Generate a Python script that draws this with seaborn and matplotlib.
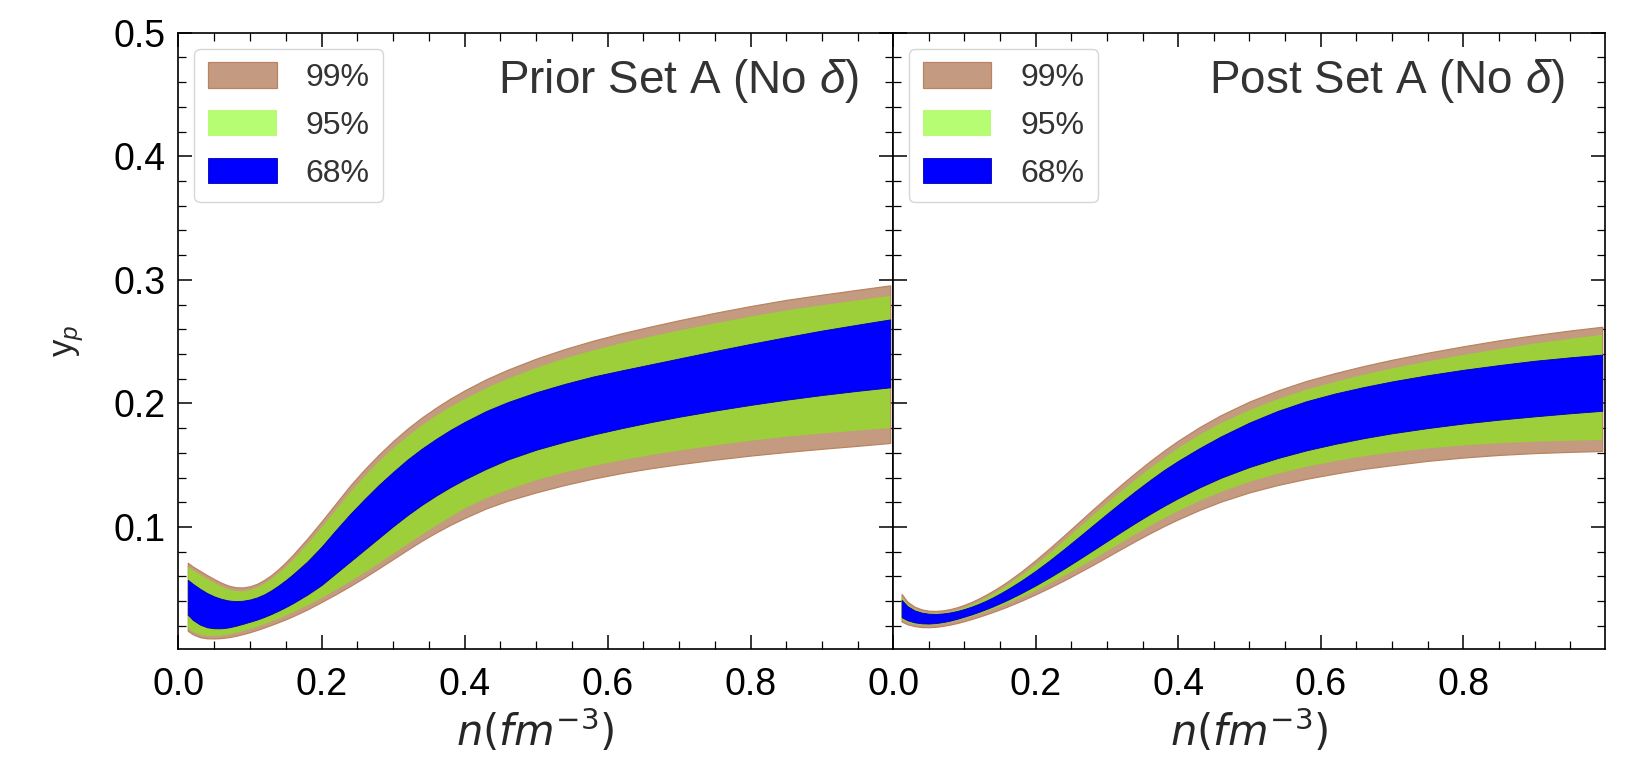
import numpy as np
import matplotlib
matplotlib.use("Agg")
import matplotlib.pyplot as plt
from matplotlib.ticker import FormatStrFormatter
import seaborn as sns

# density grids (fm^-3)
n_prior = [0.013, 0.02, 0.03, 0.04, 0.05, 0.06, 0.07, 0.08, 0.09, 0.10, 0.11, 0.12, 0.13, 0.14,
           0.15, 0.16, 0.18, 0.20, 0.22, 0.24, 0.26, 0.28, 0.30, 0.32, 0.34, 0.36, 0.38, 0.40,
           0.43, 0.46, 0.50, 0.54, 0.58, 0.62, 0.66, 0.70, 0.75, 0.80, 0.85, 0.90, 0.95, 0.995]
n_post = [0.012, 0.02, 0.03, 0.04, 0.05, 0.06, 0.07, 0.08, 0.09, 0.10, 0.11, 0.12, 0.13, 0.14,
          0.15, 0.16, 0.18, 0.20, 0.22, 0.24, 0.26, 0.28, 0.30, 0.32, 0.34, 0.36, 0.38, 0.40,
          0.43, 0.46, 0.50, 0.54, 0.58, 0.62, 0.66, 0.70, 0.75, 0.80, 0.85, 0.90, 0.95, 0.995]

# proton fraction credible bands, prior (Set A, no delta meson)
prior_u99 = [0.0710, 0.0680, 0.0645, 0.0610, 0.0578, 0.0548, 0.0525, 0.0512, 0.0510, 0.0520, 0.0540,
             0.0572, 0.0612, 0.0660, 0.0715, 0.0775, 0.0905, 0.1045, 0.1190, 0.1335, 0.1465, 0.1585,
             0.1695, 0.1795, 0.1885, 0.1965, 0.2039, 0.2105, 0.2195, 0.2272, 0.2362, 0.2440, 0.2508,
             0.2568, 0.2622, 0.2673, 0.2733, 0.2788, 0.2838, 0.2880, 0.2920, 0.2955]
prior_u95 = [0.0680, 0.0650, 0.0615, 0.0580, 0.0548, 0.0518, 0.0495, 0.0482, 0.0480, 0.0490, 0.0509,
             0.0540, 0.0579, 0.0626, 0.0675, 0.0733, 0.0860, 0.0995, 0.1138, 0.1280, 0.1408, 0.1527,
             0.1635, 0.1733, 0.1821, 0.1900, 0.1971, 0.2035, 0.2123, 0.2199, 0.2287, 0.2364, 0.2430,
             0.2488, 0.2541, 0.2590, 0.2648, 0.2703, 0.2753, 0.2795, 0.2835, 0.2870]
prior_u68 = [0.0572, 0.0540, 0.0500, 0.0465, 0.0438, 0.0418, 0.0405, 0.0400, 0.0403, 0.0413, 0.0430,
             0.0455, 0.0488, 0.0527, 0.0570, 0.0617, 0.0720, 0.0840, 0.0975, 0.1105, 0.1225, 0.1340,
             0.1445, 0.1545, 0.1633, 0.1712, 0.1785, 0.1850, 0.1938, 0.2010, 0.2090, 0.2158, 0.2218,
             0.2268, 0.2316, 0.2364, 0.2424, 0.2482, 0.2537, 0.2590, 0.2638, 0.2680]
prior_l68 = [0.0290, 0.0248, 0.0210, 0.0188, 0.0180, 0.0180, 0.0187, 0.0200, 0.0216, 0.0233, 0.0251,
             0.0272, 0.0296, 0.0323, 0.0352, 0.0383, 0.0452, 0.0530, 0.0625, 0.0720, 0.0815, 0.0910,
             0.1005, 0.1095, 0.1178, 0.1253, 0.1322, 0.1385, 0.1470, 0.1545, 0.1625, 0.1690, 0.1748,
             0.1800, 0.1848, 0.1892, 0.1942, 0.1988, 0.2030, 0.2068, 0.2102, 0.2130]
prior_l95 = [0.0180, 0.0152, 0.0128, 0.0119, 0.0118, 0.0122, 0.0130, 0.0142, 0.0157, 0.0174, 0.0193,
             0.0214, 0.0236, 0.0259, 0.0283, 0.0309, 0.0364, 0.0425, 0.0490, 0.0558, 0.0630, 0.0705,
             0.0782, 0.0860, 0.0937, 0.1010, 0.1080, 0.1150, 0.1232, 0.1300, 0.1378, 0.1442, 0.1495,
             0.1540, 0.1582, 0.1618, 0.1660, 0.1698, 0.1730, 0.1757, 0.1780, 0.1800]
prior_l99 = [0.0160, 0.0132, 0.0108, 0.0099, 0.0098, 0.0101, 0.0108, 0.0119, 0.0133, 0.0149, 0.0167,
             0.0187, 0.0208, 0.0230, 0.0253, 0.0278, 0.0332, 0.0393, 0.0456, 0.0522, 0.0592, 0.0665,
             0.0740, 0.0815, 0.0888, 0.0955, 0.1017, 0.1073, 0.1150, 0.1212, 0.1280, 0.1340, 0.1392,
             0.1437, 0.1475, 0.1508, 0.1545, 0.1578, 0.1607, 0.1633, 0.1657, 0.1680]

# proton fraction credible bands, posterior (Set A, no delta meson)
post_u99 = [0.0457, 0.0395, 0.0355, 0.0333, 0.0322, 0.0320, 0.0325, 0.0335, 0.0350, 0.0370, 0.0393,
            0.0420, 0.0450, 0.0483, 0.0518, 0.0556, 0.0640, 0.0732, 0.0830, 0.0932, 0.1036, 0.1140,
            0.1242, 0.1342, 0.1438, 0.1530, 0.1617, 0.1698, 0.1808, 0.1905, 0.2015, 0.2105, 0.2182,
            0.2245, 0.2302, 0.2353, 0.2410, 0.2462, 0.2510, 0.2552, 0.2590, 0.2620]
post_u95 = [0.0437, 0.0375, 0.0335, 0.0313, 0.0302, 0.0300, 0.0304, 0.0313, 0.0328, 0.0347, 0.0369,
            0.0395, 0.0424, 0.0456, 0.0490, 0.0527, 0.0608, 0.0692, 0.0788, 0.0887, 0.0989, 0.1091,
            0.1190, 0.1288, 0.1382, 0.1472, 0.1557, 0.1638, 0.1745, 0.1840, 0.1945, 0.2035, 0.2112,
            0.2175, 0.2232, 0.2283, 0.2340, 0.2392, 0.2440, 0.2484, 0.2523, 0.2555]
post_u68 = [0.0410, 0.0360, 0.0325, 0.0307, 0.0298, 0.0296, 0.0300, 0.0308, 0.0320, 0.0336, 0.0355,
            0.0377, 0.0402, 0.0430, 0.0461, 0.0494, 0.0566, 0.0645, 0.0731, 0.0822, 0.0916, 0.1011,
            0.1106, 0.1199, 0.1290, 0.1377, 0.1460, 0.1535, 0.1638, 0.1733, 0.1845, 0.1940, 0.2018,
            0.2080, 0.2132, 0.2178, 0.2228, 0.2272, 0.2310, 0.2345, 0.2373, 0.2395]
post_l68 = [0.0270, 0.0245, 0.0228, 0.0220, 0.0218, 0.0222, 0.0230, 0.0242, 0.0257, 0.0274, 0.0292,
            0.0312, 0.0334, 0.0357, 0.0382, 0.0408, 0.0465, 0.0527, 0.0593, 0.0663, 0.0736, 0.0810,
            0.0885, 0.0960, 0.1033, 0.1103, 0.1170, 0.1233, 0.1320, 0.1398, 0.1485, 0.1558, 0.1620,
            0.1672, 0.1718, 0.1758, 0.1800, 0.1837, 0.1868, 0.1895, 0.1920, 0.1940]
post_l95 = [0.0250, 0.0228, 0.0213, 0.0206, 0.0205, 0.0209, 0.0217, 0.0228, 0.0242, 0.0258, 0.0275,
            0.0294, 0.0314, 0.0335, 0.0357, 0.0380, 0.0430, 0.0484, 0.0542, 0.0604, 0.0668, 0.0735,
            0.0803, 0.0872, 0.0940, 0.1006, 0.1069, 0.1128, 0.1210, 0.1283, 0.1365, 0.1432, 0.1487,
            0.1533, 0.1572, 0.1603, 0.1635, 0.1660, 0.1678, 0.1690, 0.1698, 0.1703]
post_l99 = [0.0235, 0.0213, 0.0198, 0.0190, 0.0189, 0.0192, 0.0200, 0.0210, 0.0223, 0.0238, 0.0255,
            0.0273, 0.0292, 0.0312, 0.0333, 0.0355, 0.0403, 0.0455, 0.0510, 0.0568, 0.0630, 0.0692,
            0.0757, 0.0822, 0.0886, 0.0948, 0.1007, 0.1062, 0.1138, 0.1205, 0.1280, 0.1340, 0.1390,
            0.1432, 0.1470, 0.1500, 0.1535, 0.1562, 0.1583, 0.1598, 0.1608, 0.1615]

band_labels = ["99%", "95%", "68%"]
panel_titles = [r"Prior Set A (No $\delta$)", r"Post Set A (No $\delta$)"]
title_x = [0.952, 0.944]
x_ticks = [0.0, 0.2, 0.4, 0.6, 0.8]
y_ticks = [0.1, 0.2, 0.3, 0.4, 0.5]

sns.set_theme(style="ticks")
plt.rcParams["font.family"] = ["Liberation Sans", "DejaVu Sans"]
plt.rcParams.update({
    "mathtext.fontset": "custom",
    "mathtext.rm": "Liberation Sans",
    "mathtext.it": "Liberation Sans:italic",
    "mathtext.bf": "Liberation Sans:bold",
    "axes.linewidth": 1.2,
    "axes.edgecolor": "black",
    "xtick.color": "black",
    "ytick.color": "black",
})

c99 = "#C49A80"
c99_edge = "#B98462"
c95 = "#7CFC00"
c68 = "#0000FF"

fig = plt.figure(figsize=(16.3, 7.61), dpi=100)
ax_l = fig.add_axes([0.1095, 0.1468, 0.4384, 0.8102])
ax_r = fig.add_axes([0.5479, 0.1468, 0.4368, 0.8102], sharey=ax_l)

panels = [
    (ax_l, n_prior, prior_u99, prior_u95, prior_u68, prior_l68, prior_l95, prior_l99),
    (ax_r, n_post, post_u99, post_u95, post_u68, post_l68, post_l95, post_l99),
]

for (ax, n, u99, u95, u68, l68, l95, l99), title, tx in zip(panels, panel_titles, title_x):
    n = np.asarray(n)
    h99 = ax.fill_between(n, l99, u99, facecolor=c99, edgecolor=c99_edge, linewidth=0.9,
                          label=band_labels[0])
    h95 = ax.fill_between(n, l95, u95, facecolor=c95, alpha=0.55, edgecolor="none", linewidth=0,
                          label=band_labels[1])
    h68 = ax.fill_between(n, l68, u68, facecolor=c68, edgecolor="#0000B0", linewidth=0.6,
                          label=band_labels[2])
    ax.set_xlim(0.0, 0.999)
    ax.set_ylim(0.001, 0.5)
    ax.set_xticks(x_ticks)
    ax.set_xticks(np.arange(0.05, 1.0, 0.05), minor=True)
    ax.set_yticks(y_ticks)
    ax.set_yticks(np.arange(0.02, 0.5, 0.02), minor=True)
    ax.xaxis.set_major_formatter(FormatStrFormatter("%.1f"))
    ax.yaxis.set_major_formatter(FormatStrFormatter("%.1f"))
    ax.tick_params(axis="both", which="both", direction="in", top=True, right=True,
                   colors="black")
    ax.tick_params(axis="both", which="major", length=10, width=1.1, labelsize=27)
    ax.tick_params(axis="both", which="minor", length=6, width=0.9)
    ax.tick_params(axis="x", which="major", pad=13)
    ax.tick_params(axis="y", which="major", pad=9)
    ax.set_xlabel(r"$n(fm^{-3})$", fontsize=30, labelpad=3, math_fontfamily="dejavusans")
    ax.text(tx, 0.922, title, transform=ax.transAxes, ha="right", va="center",
            fontsize=33, color="#333333")
    leg = ax.legend(handles=[h99, h95, h68], loc="upper left", fontsize=23,
                    handlelength=2.15, handleheight=0.85, handletextpad=0.9,
                    labelspacing=0.53, borderpad=0.43, borderaxespad=0.5,
                    frameon=True, fancybox=True, framealpha=0.8, edgecolor="#cccccc")
    for t in leg.get_texts():
        t.set_color("#333333")
    sns.despine(ax=ax, top=False, right=False)

ax_l.set_ylabel(r"y$_{p}$", fontsize=25, labelpad=20)
ax_r.tick_params(axis="y", which="both", labelleft=False)

fig.savefig("out.png", dpi=100)
